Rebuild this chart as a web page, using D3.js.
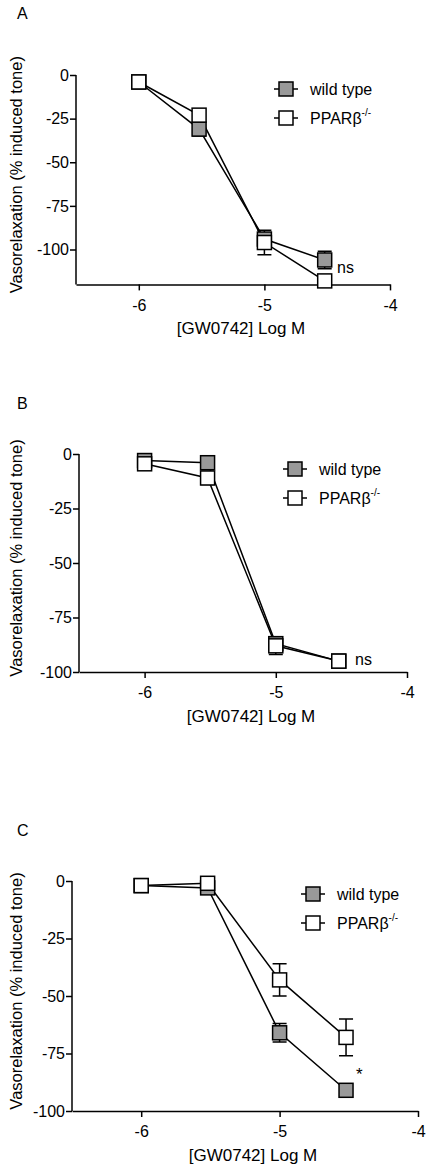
<!DOCTYPE html>
<html lang="en">
<head>
<meta charset="utf-8">
<style>
  body { margin: 0; background: #fff; }
  svg { font-family: "Liberation Sans", Arial, sans-serif; }
</style>
</head>
<body>
<script src="https://d3js.org/d3.v7.min.js"></script>
<script>
var doses = [-6, -5.52, -5, -4.52];
var xTicks = [-6, -5, -4];

var wtA = [-4, -31, -94, -106], wtErrA = [1, 4, 3, 5];
var koA = [-4, -23, -96, -118], koErrA = [1, 3, 7, 2];
var wtB = [-3, -4, -87, -95], wtErrB = [1, 2, 3, 1];
var koB = [-4.5, -11, -88, -95], koErrB = [1, 3, 4, 1];
var wtC = [-2, -3, -66, -91], wtErrC = [1, 1, 4, 1];
var koC = [-2, -1, -43, -68], koErrC = [1, 1, 7, 8];

var svg = d3.select("body").append("svg").attr("width", 431).attr("height", 1169);

function panel(o) {
  var g = svg.append("g");
  var x = d3.scaleLinear().domain([-6.5, -4]).range([o.x0, o.x1]);
  var y = d3.scaleLinear().domain([0, o.yMin]).range([o.y0, o.y1]);
  var yBottom = o.yBottom;

  g.append("text").attr("x", 17).attr("y", o.labelY).attr("font-size", 16).text(o.letter);

  var fmt = function (d) { return String(d); };
  var xa = g.append("g").attr("transform", "translate(0," + y(yBottom) + ")")
    .call(d3.axisBottom(x).tickValues(xTicks).tickSize(6).tickSizeOuter(0).tickFormat(fmt));
  var ya = g.append("g").attr("transform", "translate(" + o.x0 + ",0)")
    .call(d3.axisLeft(y).tickValues(o.yTicks).tickSize(6).tickSizeOuter(0).tickFormat(fmt));
  ya.select(".domain").attr("d", "M0," + y(0) + "V" + y(yBottom));
  [xa, ya].forEach(function (a) {
    a.selectAll("path,line").attr("stroke", "#000").attr("stroke-width", 1.5);
    a.selectAll("text").attr("font-size", 16).attr("font-family", "Liberation Sans, Arial, sans-serif").attr("fill", "#000");
  });
  ya.selectAll("text").attr("x", -7);
  xa.selectAll("text").attr("y", 12).attr("dy", "0.9em");

  g.append("text").attr("x", (o.x0 + o.x1) / 2 + 8).attr("y", y(yBottom) + 50)
    .attr("text-anchor", "middle").attr("font-size", 17).text("[GW0742] Log M");
  g.append("text").attr("transform", "translate(" + 22 + "," + ((y(0) + y(yBottom)) / 2 - 5) + ") rotate(-90)")
    .attr("text-anchor", "middle").attr("font-size", 16.5).text("Vasorelaxation (% induced tone)");

  var line = d3.line().x(function (d, i) { return x(doses[i]); }).y(function (d) { return y(d); });
  [[o.wt, o.wtErr], [o.ko, o.koErr]].forEach(function (s) {
    g.append("path").datum(s[0]).attr("d", line).attr("fill", "none").attr("stroke", "#000").attr("stroke-width", 1.5);
    s[0].forEach(function (v, i) {
      var cx = x(doses[i]), e = s[1][i];
      if (e > 1.5) {
        g.append("path").attr("d",
          "M" + cx + "," + y(v + e) + "V" + y(v - e) +
          "M" + (cx - 7) + "," + y(v + e) + "h14M" + (cx - 7) + "," + y(v - e) + "h14")
          .attr("stroke", "#000").attr("stroke-width", 1.5).attr("fill", "none");
      }
    });
  });
  [[o.wt, "#999"], [o.ko, "#fff"]].forEach(function (s) {
    g.selectAll(null).data(s[0]).enter().append("rect")
      .attr("x", function (d, i) { return x(doses[i]) - 7; })
      .attr("y", function (d) { return y(d) - 7; })
      .attr("width", 14).attr("height", 14)
      .attr("fill", s[1]).attr("stroke", "#000").attr("stroke-width", 1.5);
  });

  // legend
  [["wild type", "#999", 0], ["PPAR\u03b2", "#fff", 1]].forEach(function (l) {
    var ly = o.legY + l[2] * 29;
    g.append("line").attr("x1", o.legX - 12).attr("x2", o.legX + 12).attr("y1", ly).attr("y2", ly)
      .attr("stroke", "#000").attr("stroke-width", 1.5);
    g.append("rect").attr("x", o.legX - 7).attr("y", ly - 7).attr("width", 14).attr("height", 14)
      .attr("fill", l[1]).attr("stroke", "#000").attr("stroke-width", 1.5);
    var t = g.append("text").attr("x", o.legX + 24).attr("y", ly + 6).attr("font-size", 16).text(l[0]);
    if (l[2] === 1) t.append("tspan").attr("dy", -8).attr("font-size", 10).text("-/-");
  });

  g.append("text").attr("x", o.markX).attr("y", o.markY).attr("font-size", o.mark === "*" ? 17 : 16).text(o.mark);
}

panel({ letter: "A", labelY: 19, x0: 76, x1: 390, y0: 75, y1: 249.5, yMin: -100, yBottom: -120,
  yTicks: [0, -25, -50, -75, -100], wt: wtA, wtErr: wtErrA, ko: koA, koErr: koErrA,
  legX: 286, legY: 89, mark: "ns", markX: 337, markY: 273 });
panel({ letter: "B", labelY: 409, x0: 79, x1: 407, y0: 454, y1: 672, yMin: -100, yBottom: -100,
  yTicks: [0, -25, -50, -75, -100], wt: wtB, wtErr: wtErrB, ko: koB, koErr: koErrB,
  legX: 295, legY: 469, mark: "ns", markX: 355, markY: 665 });
panel({ letter: "C", labelY: 836, x0: 72, x1: 418, y0: 881, y1: 1111, yMin: -100, yBottom: -100,
  yTicks: [0, -25, -50, -75, -100], wt: wtC, wtErr: wtErrC, ko: koC, koErr: koErrC,
  legX: 313, legY: 894, mark: "*", markX: 356, markY: 1080 });
</script>
</body>
</html>
